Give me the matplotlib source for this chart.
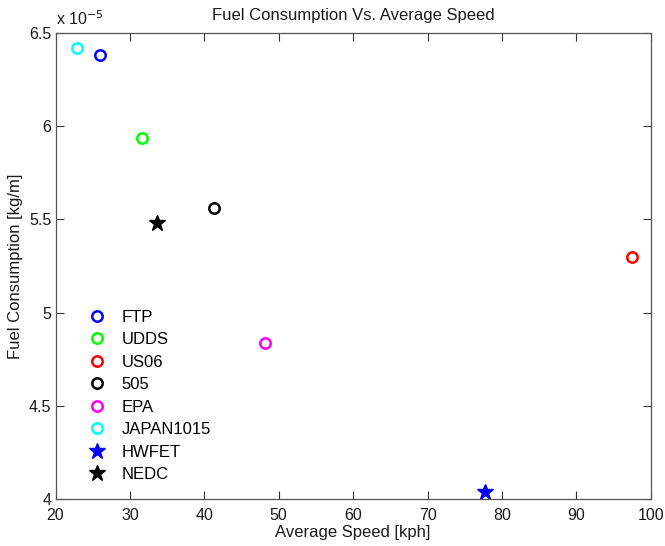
import matplotlib
matplotlib.use("Agg")
import matplotlib.pyplot as plt
from matplotlib.ticker import FuncFormatter

plt.rcParams['font.family'] = ['Liberation Sans', 'DejaVu Sans']

# cycle name, average speed [kph], fuel consumption [kg/m], colour, marker
cycles = ["FTP", "UDDS", "US06", "505", "EPA", "JAPAN1015", "HWFET", "NEDC"]
speed = [25.99, 31.62, 97.45, 41.29, 48.2, 22.86, 77.76, 33.69]
fuel = [6.383e-5, 5.935e-5, 5.30e-5, 5.56e-5, 4.836e-5, 6.418e-5, 4.0375e-5, 5.479e-5]
colors = ["#0000ff", "#00ff00", "#ff0000", "#000000", "#ff00ff", "#00ffff", "#0000ff", "#000000"]
markers = ["o", "o", "o", "o", "o", "o", "*", "*"]

fig = plt.figure(figsize=(6.65, 5.46), dpi=100)
ax = fig.add_axes([0.0835, 0.0855, 0.895, 0.8545])

for name, x, y, c, m in zip(cycles, speed, fuel, colors, markers):
    if m == "o":
        ax.plot(x, y, linestyle="none", marker="o", markersize=7.5,
                markerfacecolor="none", markeredgecolor=c, markeredgewidth=1.8,
                label=name)
    else:
        ax.plot(x, y, linestyle="none", marker="*", markersize=12,
                color=c, label=name)

ax.set_xlim(20, 100)
ax.set_ylim(4e-5, 6.5e-5)
ax.set_xticks(range(20, 101, 10))
ax.set_yticks([4e-5, 4.5e-5, 5e-5, 5.5e-5, 6e-5, 6.5e-5])
ax.yaxis.set_major_formatter(FuncFormatter(lambda v, p: "%g" % round(v / 1e-5, 3)))

ax.tick_params(direction="in", top=True, right=True, length=6, width=0.8,
               labelsize=11.5, colors="#333333", labelcolor="#1a1a1a", pad=3)
ax.tick_params(axis="x", pad=6)
for s in ax.spines.values():
    s.set_color("#555555")
    s.set_linewidth(0.9)

ax.text(0.0, 1.01, "x 10$^{-5}$", transform=ax.transAxes, fontsize=11.5,
        color="#1a1a1a", ha="left", va="bottom")

ax.set_title("Fuel Consumption Vs. Average Speed", fontsize=12, color="#1a1a1a", pad=9)
ax.set_xlabel("Average Speed [kph]", fontsize=12, color="#1a1a1a", labelpad=2)
ax.set_ylabel("Fuel Consumption [kg/m]", fontsize=12, color="#1a1a1a", labelpad=4)

ax.legend(loc="lower left", bbox_to_anchor=(0.033, 0.012), frameon=False,
          fontsize=12, handletextpad=0.9, labelspacing=0.45, borderaxespad=0.3,
          handlelength=1.2)

fig.savefig("out.png", dpi=100)
